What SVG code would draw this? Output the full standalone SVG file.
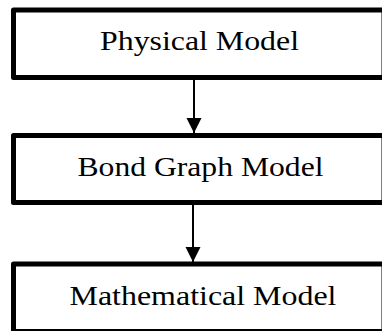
<svg xmlns="http://www.w3.org/2000/svg" width="382" height="331" viewBox="0 0 382 331">
  <style>
    .box { fill: #ffffff; stroke: #000000; stroke-width: 5; stroke-linejoin: round; }
    .label { font-family: 'Liberation Serif', 'Times New Roman', Times, serif; font-size: 27.5px; fill: #000000; }
    .conn { stroke: #000000; stroke-width: 2; fill: none; }
  </style>
  <defs>
    <marker id="arrow" markerUnits="userSpaceOnUse" markerWidth="16" markerHeight="16" refX="15" refY="7.5" orient="auto">
      <path d="M0,0 L15,7.5 L0,15 z" fill="#000000"/>
    </marker>
  </defs>
  <rect width="382" height="331" fill="#ffffff"/>
  <g id="node-physical">
    <rect class="box" x="13.5" y="10" width="370.5" height="67.5"/>
    <text class="label" font-family="Liberation Serif" x="100" y="50" textLength="199" lengthAdjust="spacingAndGlyphs">Physical Model</text>
  </g>
  <g id="node-bondgraph">
    <rect class="box" x="13.5" y="135.5" width="370.5" height="67"/>
    <text class="label" font-family="Liberation Serif" x="77.5" y="176" textLength="246" lengthAdjust="spacingAndGlyphs">Bond Graph Model</text>
  </g>
  <g id="node-mathematical">
    <rect class="box" x="13.5" y="264" width="370.5" height="67.5"/>
    <text class="label" font-family="Liberation Serif" x="69.5" y="304.5" textLength="267" lengthAdjust="spacingAndGlyphs">Mathematical Model</text>
  </g>
  <g id="connectors">
    <line class="conn" x1="194" y1="80" x2="194" y2="133" marker-end="url(#arrow)"/>
    <line class="conn" x1="193" y1="205" x2="193" y2="262" marker-end="url(#arrow)"/>
  </g>
</svg>
